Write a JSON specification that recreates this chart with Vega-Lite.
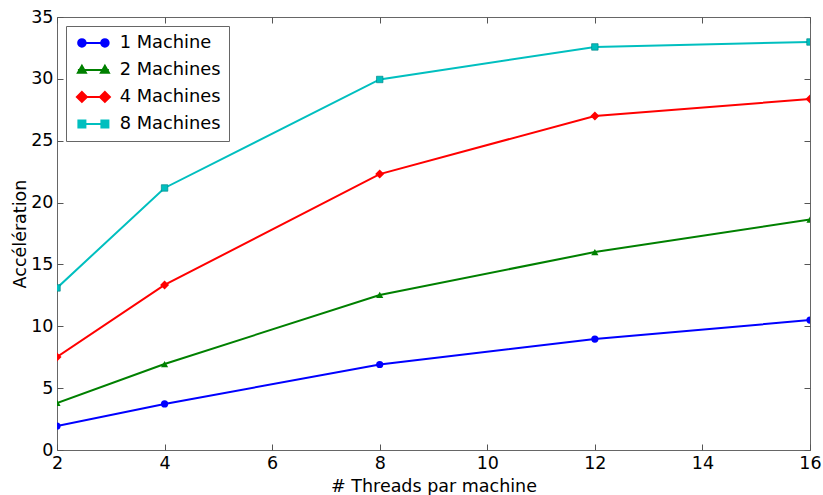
{
  "$schema": "https://vega.github.io/schema/vega-lite/v6.json",
  "width": 753,
  "height": 433,
  "autosize": "none",
  "padding": {"left": 57, "top": 17, "right": 13, "bottom": 45},
  "background": "white",
  "config": {
    "view": {"stroke": "#666", "strokeWidth": 1},
    "font": "DejaVu Sans",
    "axis": {
      "grid": false,
      "domain": false,
      "tickColor": "#555",
      "tickSize": -6,
      "labelPadding": 10,
      "labelFlush": false,
      "labelFont": "DejaVu Sans",
      "labelFontSize": 17.5,
      "labelColor": "black",
      "titleFont": "DejaVu Sans",
      "titleFontSize": 17.5,
      "titleFontWeight": "normal",
      "titleColor": "black"
    },
    "legend": {
      "orient": "top-left",
      "offset": 9,
      "padding": 8,
      "strokeColor": "#666",
      "fillColor": "white",
      "cornerRadius": 0,
      "labelFont": "DejaVu Sans",
      "labelFontSize": 17.8,
      "labelColor": "black",
      "symbolSize": 100,
      "rowPadding": 8,
      "labelOffset": 28,
      "symbolStrokeWidth": 2
    }
  },
  "data": {
    "values": [
      {"threads": 2, "series": "1 Machine", "speedup": 1.94},
      {"threads": 4, "series": "1 Machine", "speedup": 3.72},
      {"threads": 8, "series": "1 Machine", "speedup": 6.91},
      {"threads": 12, "series": "1 Machine", "speedup": 8.97},
      {"threads": 16, "series": "1 Machine", "speedup": 10.5},
      {"threads": 2, "series": "2 Machines", "speedup": 3.8},
      {"threads": 4, "series": "2 Machines", "speedup": 6.95},
      {"threads": 8, "series": "2 Machines", "speedup": 12.53},
      {"threads": 12, "series": "2 Machines", "speedup": 16.0},
      {"threads": 16, "series": "2 Machines", "speedup": 18.63},
      {"threads": 2, "series": "4 Machines", "speedup": 7.52},
      {"threads": 4, "series": "4 Machines", "speedup": 13.34},
      {"threads": 8, "series": "4 Machines", "speedup": 22.3},
      {"threads": 12, "series": "4 Machines", "speedup": 27.0},
      {"threads": 16, "series": "4 Machines", "speedup": 28.37},
      {"threads": 2, "series": "8 Machines", "speedup": 13.1},
      {"threads": 4, "series": "8 Machines", "speedup": 21.18},
      {"threads": 8, "series": "8 Machines", "speedup": 29.95},
      {"threads": 12, "series": "8 Machines", "speedup": 32.58},
      {"threads": 16, "series": "8 Machines", "speedup": 32.98}
    ]
  },
  "layer": [
    {
      "mark": {"type": "line", "strokeWidth": 2, "clip": true},
      "encoding": {
        "x": {"field": "threads", "type": "quantitative", "scale": {"domain": [2, 16], "nice": false, "zero": false},
              "axis": {"values": [2, 4, 6, 8, 10, 12, 14, 16], "title": "# Threads par machine", "titlePadding": 6}},
        "y": {"field": "speedup", "type": "quantitative", "scale": {"domain": [0, 35], "nice": false},
              "axis": {"values": [0, 5, 10, 15, 20, 25, 30, 35], "title": "Accélération", "titlePadding": 1}},
        "color": {
          "field": "series", "type": "nominal",
          "scale": {"domain": ["1 Machine", "2 Machines", "4 Machines", "8 Machines"], "range": ["#0000ff", "#008000", "#ff0000", "#00bfbf"]},
          "legend": {
            "title": null,
            "encode": {
              "symbols": {
                "update": {
                  "shape": {"signal": "datum.value === '1 Machine' ? 'M-1,0L5.2,0M0.55,0A0.75,0.75,0,1,1,-0.95,0A0.75,0.75,0,1,1,0.55,0ZM5.15,0A0.75,0.75,0,1,1,3.65,0A0.75,0.75,0,1,1,5.15,0Z' : datum.value === '2 Machines' ? 'M-1,0L5.2,0M-0.2,-0.85L0.6,0.55L-1,0.55ZM4.4,-0.85L5.2,0.55L3.6,0.55Z' : datum.value === '4 Machines' ? 'M-1,0L5.2,0M-0.2,-1L0.8,0L-0.2,1L-1.2,0ZM4.4,-1L5.4,0L4.4,1L3.4,0Z' : 'M-1,0L5.2,0M-0.9,-0.7L0.5,-0.7L0.5,0.7L-0.9,0.7ZM3.7,-0.7L5.1,-0.7L5.1,0.7L3.7,0.7Z'"},
                  "fill": {"scale": "color", "field": "value"},
                  "fillOpacity": {"value": 1},
                  "stroke": {"scale": "color", "field": "value"},
                  "strokeWidth": {"value": 2},
                  "opacity": {"value": 1}
                }
              }
            }
          }
        }
      }
    },
    {
      "transform": [{"filter": "datum.series === '1 Machine'"}],
      "mark": {"type": "point", "shape": "circle", "size": 52, "filled": true, "opacity": 1, "clip": true},
      "encoding": {
        "x": {"field": "threads", "type": "quantitative", "axis": null},
        "y": {"field": "speedup", "type": "quantitative", "axis": null},
        "color": {"field": "series", "type": "nominal", "legend": null}
      }
    },
    {
      "transform": [{"filter": "datum.series === '2 Machines'"}],
      "mark": {"type": "point", "shape": "triangle-up", "size": 52, "filled": true, "opacity": 1, "clip": true},
      "encoding": {
        "x": {"field": "threads", "type": "quantitative", "axis": null},
        "y": {"field": "speedup", "type": "quantitative", "axis": null},
        "color": {"field": "series", "type": "nominal", "legend": null}
      }
    },
    {
      "transform": [{"filter": "datum.series === '4 Machines'"}],
      "mark": {"type": "point", "shape": "diamond", "size": 81, "filled": true, "opacity": 1, "clip": true},
      "encoding": {
        "x": {"field": "threads", "type": "quantitative", "axis": null},
        "y": {"field": "speedup", "type": "quantitative", "axis": null},
        "color": {"field": "series", "type": "nominal", "legend": null}
      }
    },
    {
      "transform": [{"filter": "datum.series === '8 Machines'"}],
      "mark": {"type": "point", "shape": "square", "size": 42, "filled": true, "opacity": 1, "clip": true, "stroke": "#008b8b", "strokeWidth": 0.7},
      "encoding": {
        "x": {"field": "threads", "type": "quantitative", "axis": null},
        "y": {"field": "speedup", "type": "quantitative", "axis": null},
        "color": {"field": "series", "type": "nominal", "legend": null}
      }
    },
    {
      "mark": {"type": "point", "opacity": 0},
      "encoding": {
        "x": {"field": "threads", "type": "quantitative", "axis": {"orient": "top", "values": [2, 4, 6, 8, 10, 12, 14, 16], "labels": false, "title": null}},
        "y": {"field": "speedup", "type": "quantitative", "axis": {"orient": "right", "values": [0, 5, 10, 15, 20, 25, 30, 35], "labels": false, "title": null}}
      }
    }
  ],
  "resolve": {"axis": {"x": "independent", "y": "independent"}}
}
